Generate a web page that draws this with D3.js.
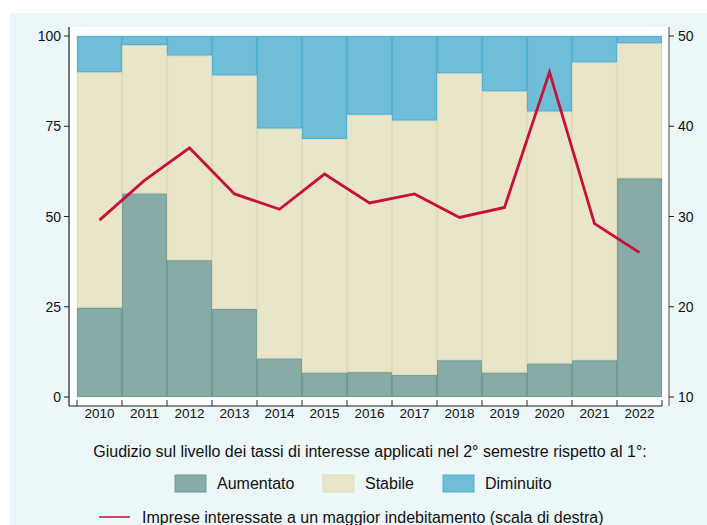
<!DOCTYPE html>
<meta charset="utf-8">
<script src="https://d3js.org/d3.v7.min.js"></script>
<style>
html, body { margin: 0; padding: 0; background: #fff; }
text { font-family: "Liberation Sans", Arial, sans-serif; fill: #111; }
</style>
<body>
<div id="chart"></div>
<script>

// data
var years = ["2010","2011","2012","2013","2014","2015","2016","2017","2018","2019","2020","2021","2022"];
var aumentato = [24.8, 56.4, 37.9, 24.4, 10.7, 6.8, 6.9, 6.1, 10.2, 6.8, 9.3, 10.2, 60.6];
var diminuito = [10.0, 2.5, 5.4, 10.9, 25.6, 28.5, 21.8, 23.4, 10.3, 15.3, 20.9, 7.3, 2.0];
var stabile = aumentato.map(function(a, i) { return 100 - a - diminuito[i]; });
var imprese = [29.6, 34.0, 37.6, 32.5, 30.8, 34.7, 31.5, 32.5, 29.9, 31.0, 46.0, 29.2, 26.0];
var leftTicks = [0, 25, 50, 75, 100];
var rightTicks = [10, 20, 30, 40, 50];

var W = 707, H = 525;

var svg = d3.select("#chart").append("svg")
    .attr("width", W)
    .attr("height", H);

// backgrounds
svg.append("rect").attr("x", 10).attr("y", 13).attr("width", W - 10).attr("height", H - 13)
    .attr("fill", "#ebf7f8");
svg.append("rect").attr("x", 70).attr("y", 27).attr("width", 599).attr("height", 378)
    .attr("fill", "#fff");

var x = d3.scaleBand().domain(years).range([77, 662]).padding(0);
var yL = d3.scaleLinear().domain([0, 100]).range([397, 36]);
var yR = d3.scaleLinear().domain([10, 50]).range([397, 36]);

var rows = years.map(function(y, i) {
  return { year: y, Aumentato: aumentato[i], Stabile: stabile[i], Diminuito: diminuito[i] };
});
var keys = ["Aumentato", "Stabile", "Diminuito"];
var fills = { Aumentato: "#87aca8", Stabile: "#e9e5c9", Diminuito: "#70bdd8" };
var strokes = { Aumentato: "#6e9c97", Stabile: "#e0dcbb", Diminuito: "#52b1d5" };

var stack = d3.stack().keys(keys)(rows);

svg.selectAll(".layer")
  .data(stack)
  .enter().append("g")
    .attr("class", "layer")
    .attr("fill", function(d) { return fills[d.key]; })
    .attr("stroke", function(d) { return strokes[d.key]; })
  .selectAll("rect")
  .data(function(d) { return d; })
  .enter().append("rect")
    .attr("x", function(d) { return x(d.data.year) + 0.5; })
    .attr("width", x.bandwidth() - 1)
    .attr("y", function(d) { return yL(d[1]) + 0.5; })
    .attr("height", function(d) { return Math.max(0, yL(d[0]) - yL(d[1]) - 1); })
    .attr("stroke-width", 1.2);

// line on right scale
var line = d3.line()
    .x(function(d, i) { return x(years[i]) + x.bandwidth() / 2; })
    .y(function(d) { return yR(d); });

svg.append("path")
    .datum(imprese)
    .attr("d", line)
    .attr("fill", "none")
    .attr("stroke", "#c8103a")
    .attr("stroke-width", 2.8)
    .attr("stroke-linejoin", "miter");

// axes
var axisColor = "#222";
svg.append("line").attr("x1", 69).attr("x2", 69).attr("y1", 27).attr("y2", 406)
    .attr("stroke", axisColor).attr("stroke-width", 1.2);
svg.append("line").attr("x1", 69).attr("x2", 662).attr("y1", 406).attr("y2", 406)
    .attr("stroke", axisColor).attr("stroke-width", 1.2);
svg.append("line").attr("x1", 669).attr("x2", 669).attr("y1", 27).attr("y2", 406)
    .attr("stroke", "#666").attr("stroke-width", 1.2);

var leftAxis = svg.append("g");
leftTicks.forEach(function(t) {
  leftAxis.append("line").attr("x1", 64).attr("x2", 69).attr("y1", yL(t)).attr("y2", yL(t))
      .attr("stroke", axisColor);
  leftAxis.append("text").attr("x", 61).attr("y", yL(t) + 5)
      .attr("text-anchor", "end").attr("font-size", 14).text(t);
});

var rightAxis = svg.append("g");
rightTicks.forEach(function(t) {
  rightAxis.append("line").attr("x1", 669).attr("x2", 674).attr("y1", yR(t)).attr("y2", yR(t))
      .attr("stroke", axisColor);
  rightAxis.append("text").attr("x", 678).attr("y", yR(t) + 5)
      .attr("text-anchor", "start").attr("font-size", 14).text(t);
});

// bottom ticks at bar edges
var edges = years.map(function(y) { return x(y); }).concat([x.range()[1]]);
svg.selectAll(".xt").data(edges).enter().append("line")
    .attr("x1", function(d) { return d; }).attr("x2", function(d) { return d; })
    .attr("y1", 400).attr("y2", 406)
    .attr("stroke", axisColor);
svg.selectAll(".xl").data(years).enter().append("text")
    .attr("x", function(d) { return x(d) + x.bandwidth() / 2; })
    .attr("y", 418)
    .attr("text-anchor", "middle")
    .attr("font-size", 13.5)
    .text(function(d) { return d; });

// legend
svg.append("text").attr("x", 370).attr("y", 457).attr("text-anchor", "middle")
    .attr("font-size", 16)
    .text("Giudizio sul livello dei tassi di interesse applicati nel 2° semestre rispetto al 1°:");

var legX = [175, 323, 443];
keys.forEach(function(k, i) {
  svg.append("rect").attr("x", legX[i]).attr("y", 475).attr("width", 31).attr("height", 17)
      .attr("fill", fills[k]).attr("stroke", strokes[k]);
  svg.append("text").attr("x", legX[i] + 42).attr("y", 489).attr("font-size", 16).text(k);
});

svg.append("line").attr("x1", 99).attr("x2", 130).attr("y1", 517).attr("y2", 517)
    .attr("stroke", "#c8103a").attr("stroke-width", 1.5);
svg.append("text").attr("x", 142).attr("y", 523).attr("font-size", 16)
    .text("Imprese interessate a un maggior indebitamento (scala di destra)");

</script>
</body>
